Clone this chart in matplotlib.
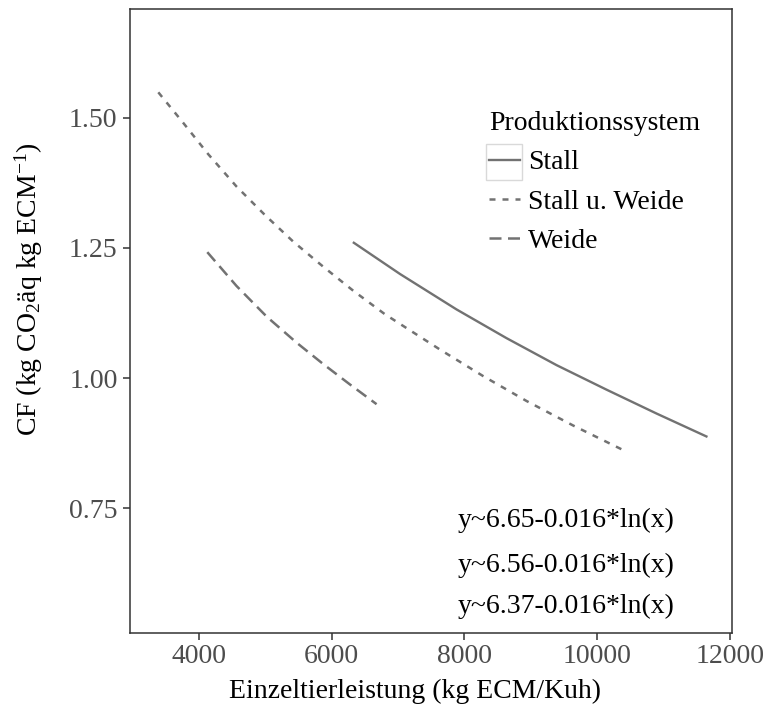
"""
CF in Abhaengigkeit der Einzeltierleistung nach Produktionssystem
"""

import matplotlib
matplotlib.use('Agg')
import matplotlib.pyplot as plt
from matplotlib.patches import Rectangle

plt.rcParams['font.family'] = ['Liberation Serif', 'DejaVu Serif']
plt.rcParams['mathtext.fontset'] = 'custom'
plt.rcParams['mathtext.rm'] = 'Liberation Serif'
plt.rcParams['mathtext.it'] = 'Liberation Serif:italic'

# Werte
stall_x = [6335, 7030, 7880, 8630, 9385, 10135, 10890, 11640]
stall_y = [1.260, 1.200, 1.132, 1.077, 1.025, 0.978, 0.932, 0.888]

stall_weide_x = [3393, 3770, 4145, 4570, 5000, 5425, 5875, 6325, 6800,
                 7630, 8280, 8935, 9635, 10385]
stall_weide_y = [1.549, 1.490, 1.430, 1.368, 1.313, 1.262, 1.214, 1.168,
                 1.123, 1.055, 1.004, 0.956, 0.909, 0.862]

weide_x = [4130, 4570, 5025, 5475, 5875, 6275, 6677]
weide_y = [1.242, 1.177, 1.118, 1.068, 1.027, 0.988, 0.950]

legend_labels = ['Stall', 'Stall u. Weide', 'Weide']
equations = ['y~6.65-0.016*ln(x)', 'y~6.56-0.016*ln(x)', 'y~6.37-0.016*ln(x)']
x_ticks = [4000, 6000, 8000, 10000, 12000]
y_ticks = [0.75, 1.00, 1.25, 1.50]

line_color = '#727272'
fs = 20

fig = plt.figure(figsize=(7.66, 7.08), dpi=100)
ax = fig.add_axes([130/766, 75/708, 602/766, 624/708])

ax.plot(stall_x, stall_y, color=line_color, lw=1.7, label=legend_labels[0])
ax.plot(stall_weide_x, stall_weide_y, color=line_color, lw=1.8,
        dashes=(2.4, 2.8), label=legend_labels[1])
ax.plot(weide_x, weide_y, color=line_color, lw=1.8,
        dashes=(4.8, 2.6), label=legend_labels[2])

ax.set_xlim(2967, 12025)
ax.set_ylim(0.5105, 1.709)
ax.set_xticks(x_ticks)
ax.set_yticks(y_ticks)
ax.set_yticklabels([f'{v:.2f}' for v in y_ticks])

for sp in ax.spines.values():
    sp.set_color('#333333')
    sp.set_linewidth(1.1)
ax.tick_params(axis='both', colors='#333333', labelcolor='#4D4D4D',
               labelsize=fs, length=5, width=1.1)
ax.tick_params(axis='x', pad=3)
ax.tick_params(axis='y', pad=4)

ax.set_xlabel('Einzeltierleistung (kg ECM/Kuh)', fontsize=fs)
ax.set_ylabel('CF (kg CO$_2$äq kg ECM$^{\\mathrm{-1}}$)', fontsize=fs)
ax.xaxis.set_label_coords(0.4726, -0.074)
ax.yaxis.set_label_coords(-0.141, 0.551)

# Gleichungen
eq_y = [0.170, 0.098, 0.032]
for txt, yy in zip(equations, eq_y):
    ax.text(0.905, yy, txt, transform=ax.transAxes, ha='right',
            va='baseline', fontsize=fs, color='black')

leg = ax.legend(title='Produktionssystem', frameon=False, fontsize=fs,
                title_fontsize=fs, loc='upper left',
                bbox_to_anchor=(489/766, 1 - 111/708),
                bbox_transform=fig.transFigure, borderpad=0,
                borderaxespad=0, handlelength=1.1, handletextpad=0.3,
                labelspacing=0.5, alignment='left')

# grauer Rahmen um den ersten Legendenschluessel
fig.patches.append(Rectangle((486/766, 1 - 180/708), 36/766, 36/708,
                             transform=fig.transFigure, fill=False,
                             edgecolor='#d9d9d9', lw=1))

fig.savefig('out.png', dpi=100)
